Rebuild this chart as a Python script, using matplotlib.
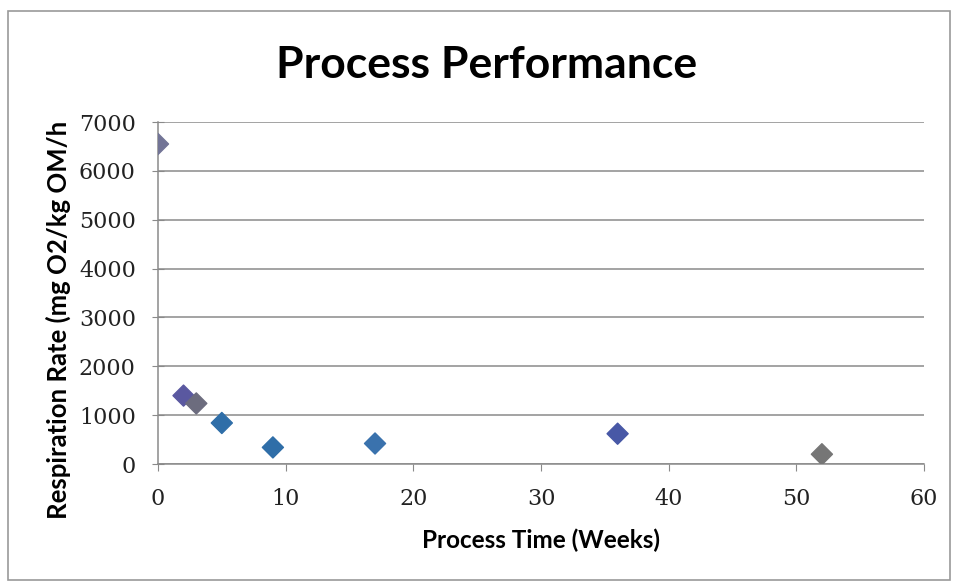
from matplotlib import pyplot as plt
from matplotlib.patches import Rectangle

plt.rcParams['font.family'] = ['Lato', 'DejaVu Sans']

# dados
semanas = [0, 2, 3, 5, 9, 17, 36, 52]
respiracao = [6550, 1400, 1240, 840, 340, 420, 620, 200]
cores = ['#727496', '#5a58a0', '#6c6c7e', '#2f6ea8', '#2f6ea8',
         '#3a72ad', '#4858a6', '#767676']

fig = plt.figure(figsize=(9.54, 5.83), dpi=100)
ax = fig.add_axes([0.1656, 0.2041, 0.803, 0.5866])

# moldura externa estilo Excel
fig.patches.append(Rectangle((0.008, 0.006), 0.988, 0.975, transform=fig.transFigure,
                             fill=False, edgecolor='#9a9a9a', linewidth=1.2))

ax.scatter(semanas, respiracao, c=cores, marker='D', s=115, zorder=3)

ax.set_xlim(0, 60)
ax.set_ylim(0, 7000)
ax.set_xticks(range(0, 61, 10))
ax.set_yticks(range(0, 7001, 1000))
ax.grid(axis='y', color='#8a8a8a', linewidth=1.1)
ax.set_axisbelow(True)

for lado in ['top', 'right']:
    ax.spines[lado].set_visible(False)
for lado in ['left', 'bottom']:
    ax.spines[lado].set_color('#8a8a8a')
    ax.spines[lado].set_linewidth(1.1)
ax.tick_params(axis='both', color='#8a8a8a', labelsize=16, labelcolor='#222222')
ax.tick_params(axis='y', direction='inout', length=8, pad=12)
ax.tick_params(axis='x', direction='out', length=5, pad=12)
for rotulo in ax.get_xticklabels() + ax.get_yticklabels():
    rotulo.set_family('DejaVu Serif')

fig.text(0.51, 0.888, 'Process Performance', fontsize=32, fontweight='bold',
         ha='center', va='center')
ax.set_xlabel('Process Time (Weeks)', fontsize=17.5, fontweight='bold')
ax.xaxis.set_label_coords(0.5, -0.19)
ax.set_ylabel('Respiration Rate (mg O2/kg OM/h', fontsize=18.5, fontweight='bold')
ax.yaxis.set_label_coords(-0.114, 0.42)

fig.savefig('out.png', dpi=100)
